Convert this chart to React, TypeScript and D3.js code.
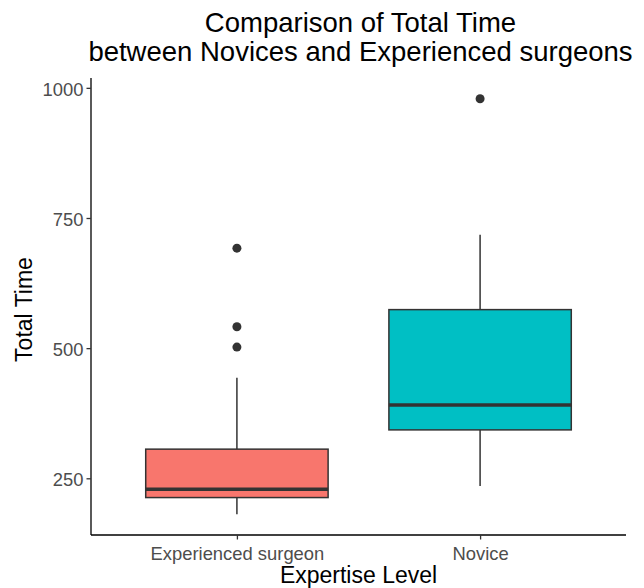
import React, { useRef, useEffect } from 'react';
import * as d3 from 'd3';

// box summary per expertise level
const categories = ['Experienced surgeon', 'Novice'];
const q1 = [213, 343];
const medians = [229, 391];
const q3 = [306, 574];
const whiskerLow = [181, 235];
const whiskerHigh = [443, 718];
const outliers = [[502, 541, 692], [979]];
const fills = ['#F8766D', '#00BFC4'];
const yTicks = [250, 500, 750, 1000];

const W = 644;
const H = 588;
const margin = { top: 78, right: 18, bottom: 53, left: 91 };

const App = () => {
  const svgRef = useRef<SVGSVGElement>(null);

  useEffect(() => {
    const svg = d3.select(svgRef.current);
    svg.selectAll('*').remove();

    const innerW = W - margin.left - margin.right;
    const innerH = H - margin.top - margin.bottom;
    const font = 'Liberation Sans, Arial, sans-serif';

    // ggplot style: discrete positions 1..n, 0.6 padding each side
    const x = d3.scaleLinear().domain([0.4, categories.length + 0.6]).range([0, innerW]);
    const step = x(2) - x(1);
    const boxW = step * 0.75;

    const lo = d3.min(whiskerLow)!;
    const hi = d3.max(outliers.flat())!;
    const pad = (hi - lo) * 0.05;
    const y = d3.scaleLinear().domain([lo - pad, hi + pad]).range([innerH, 0]);

    const g = svg.append('g').attr('transform', `translate(${margin.left},${margin.top})`);

    const boxes = g.selectAll('.box')
      .data(categories)
      .enter().append('g')
      .attr('class', 'box')
      .attr('transform', (d, i) => `translate(${x(i + 1)},0)`);

    // whiskers
    boxes.append('line')
      .attr('y1', (d, i) => y(whiskerHigh[i]))
      .attr('y2', (d, i) => y(q3[i]))
      .attr('stroke', '#333333').attr('stroke-width', 1.5);
    boxes.append('line')
      .attr('y1', (d, i) => y(q1[i]))
      .attr('y2', (d, i) => y(whiskerLow[i]))
      .attr('stroke', '#333333').attr('stroke-width', 1.5);

    // box
    boxes.append('rect')
      .attr('x', -boxW / 2)
      .attr('width', boxW)
      .attr('y', (d, i) => y(q3[i]))
      .attr('height', (d, i) => y(q1[i]) - y(q3[i]))
      .attr('fill', (d, i) => fills[i])
      .attr('stroke', '#333333')
      .attr('stroke-width', 1.5);

    // median
    boxes.append('line')
      .attr('x1', -boxW / 2)
      .attr('x2', boxW / 2)
      .attr('y1', (d, i) => y(medians[i]))
      .attr('y2', (d, i) => y(medians[i]))
      .attr('stroke', '#333333')
      .attr('stroke-width', 3.5);

    // outlier dots
    boxes.selectAll('circle')
      .data((d, i) => outliers[i])
      .enter().append('circle')
      .attr('cy', v => y(v))
      .attr('r', 4.5)
      .attr('fill', '#333333');

    // y axis
    const yAxis = g.append('g')
      .call(d3.axisLeft(y).tickValues(yTicks).tickFormat(d3.format('d')).tickSize(4.5).tickPadding(3));
    yAxis.select('.domain').attr('d', `M0,0V${innerH}`).attr('stroke', '#000').attr('stroke-width', 1.3);
    yAxis.selectAll('.tick line').attr('stroke', '#333333').attr('stroke-width', 1.3);
    yAxis.selectAll('.tick text')
      .attr('fill', '#4D4D4D')
      .attr('dy', '0.4em')
      .style('font-family', font)
      .style('font-size', '18.4px');

    // x axis
    const xAxis = g.append('g')
      .attr('transform', `translate(0,${innerH})`)
      .call(d3.axisBottom(x).tickValues(categories.map((d, i) => i + 1))
        .tickFormat((d: any) => categories[d - 1]).tickSize(4.5).tickPadding(7));
    xAxis.select('.domain').attr('d', `M0,0H${innerW}`).attr('stroke', '#000').attr('stroke-width', 1.3);
    xAxis.selectAll('.tick line').attr('stroke', '#333333').attr('stroke-width', 1.3);
    xAxis.selectAll('.tick text')
      .attr('fill', '#4D4D4D')
      .style('font-family', font)
      .style('font-size', '18.4px');

    // axis titles
    svg.append('text')
      .attr('x', margin.left + innerW / 2)
      .attr('y', 583)
      .attr('text-anchor', 'middle')
      .style('font-family', font)
      .style('font-size', '23px')
      .text('Expertise Level');

    svg.append('text')
      .attr('transform', `translate(31.5,${margin.top + innerH / 2 + 3}) rotate(-90)`)
      .attr('text-anchor', 'middle')
      .style('font-family', font)
      .style('font-size', '23px')
      .text('Total Time');

    // title
    const title = svg.append('text')
      .attr('text-anchor', 'middle')
      .style('font-family', font)
      .style('font-size', '27.5px');
    title.append('tspan').attr('x', margin.left + innerW / 2 + 2).attr('y', 32).text('Comparison of Total Time');
    title.append('tspan').attr('x', margin.left + innerW / 2 + 2).attr('y', 61).text('between Novices and Experienced surgeons');
  }, []);

  return (
    <svg ref={svgRef} width={W} height={H}
      style={{ position: 'absolute', left: 0, top: 0, background: '#fff' }} />
  );
};

export default App;
